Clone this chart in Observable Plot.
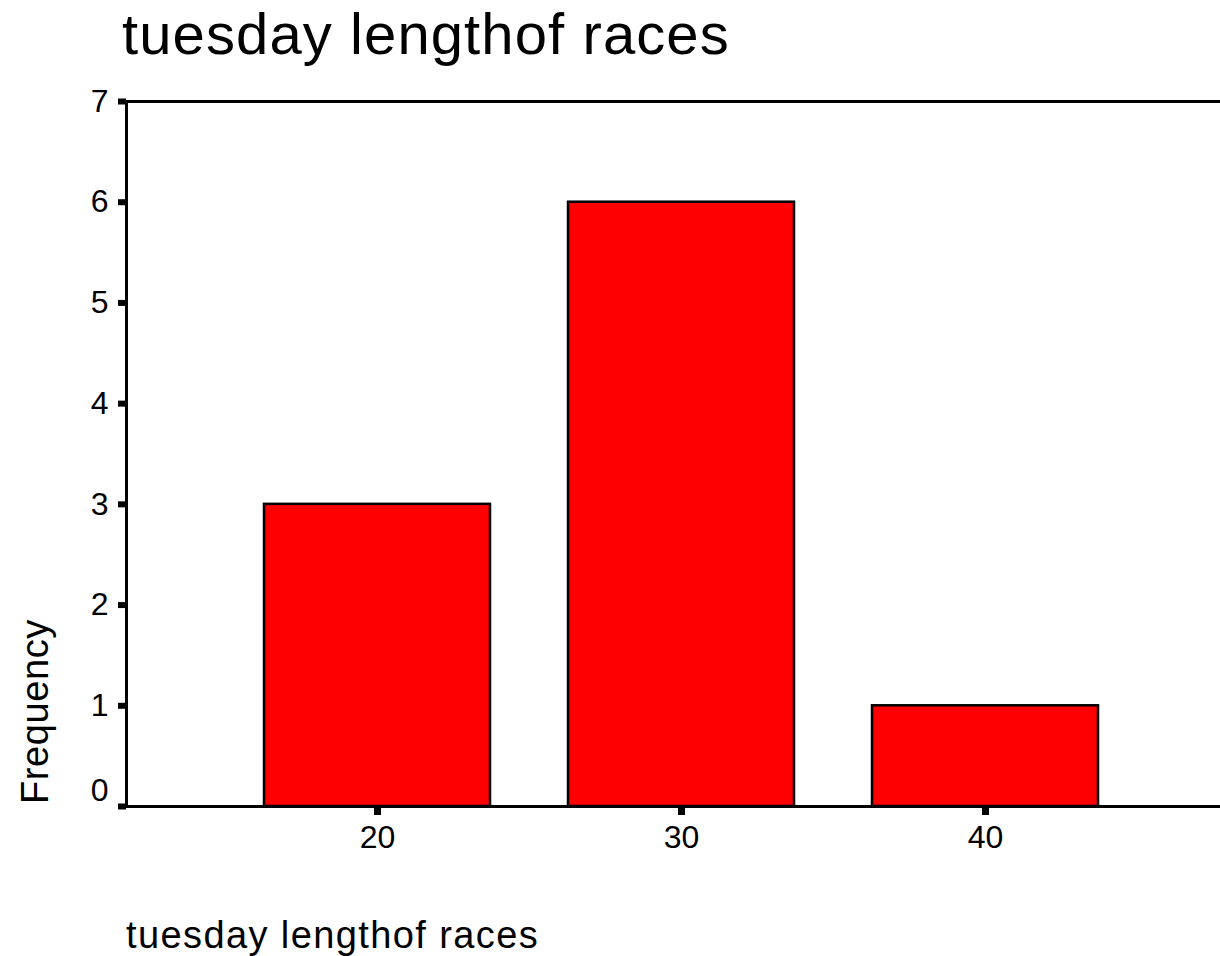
<!DOCTYPE html>
<html>
<head>
<meta charset="utf-8">
<script src="https://cdn.jsdelivr.net/npm/d3@7"></script>
<script src="https://cdn.jsdelivr.net/npm/@observablehq/plot@0.6"></script>
<style>
  html, body { margin: 0; padding: 0; background: #fff; }
  #wrap { position: relative; width: 1220px; height: 956px; overflow: hidden; font-family: "Liberation Sans", Arial, sans-serif; color: #000; }
  #wrap svg { position: absolute; left: 0; top: 0; }
  .lbl { position: absolute; white-space: nowrap; line-height: 1; }
  #title { left: 122px; top: 5px; font-size: 58px; letter-spacing: 1.1px; }
  #xlabel { left: 126px; top: 916px; font-size: 38px; letter-spacing: 1.4px; }
  #ylabel { left: 16px; top: 804px; font-size: 38px; letter-spacing: 0.6px; transform-origin: left top; transform: rotate(-90deg); }
</style>
</head>
<body>
<div id="wrap">
  <div class="lbl" id="title"></div>
  <div class="lbl" id="xlabel"></div>
  <div class="lbl" id="ylabel"></div>
</div>
<script>
// Data
const titleText = "tuesday lengthof races";
const xLabelText = "tuesday lengthof races";
const yLabelText = "Frequency";
const raceLengths = ["20", "30", "40"];
const frequencies = [3, 6, 1];
const yTickValues = [0, 1, 2, 3, 4, 5, 6, 7];

const table = raceLengths.map((l, i) => ({length: l, freq: frequencies[i]}));

document.getElementById("title").textContent = titleText;
document.getElementById("xlabel").textContent = xLabelText;
document.getElementById("ylabel").textContent = yLabelText;

const tickFont = 32;
const chart = Plot.plot({
  width: 1220,
  height: 956,
  marginLeft: 126,
  marginRight: 0,
  marginTop: 101,
  marginBottom: 150,
  style: {fontFamily: "'Liberation Sans', Arial, sans-serif", fontSize: tickFont + "px", color: "#000", background: "transparent", overflow: "hidden"},
  x: {type: "band", domain: raceLengths, range: [126, 1235], paddingInner: 0.258, paddingOuter: 0.45, label: null},
  y: {domain: [0, 7], label: null},
  marks: [
    Plot.barY(table, {x: "length", y: "freq", fill: "#ff0000", stroke: "#000", strokeWidth: 2.5}),
    Plot.frame({anchor: "top", strokeWidth: 3}),
    Plot.frame({anchor: "bottom", strokeWidth: 3}),
    Plot.frame({anchor: "left", strokeWidth: 3}),
    // tick marks for all values; labels for 1..7
    Plot.axisY({ticks: yTickValues, tickSize: 8, strokeWidth: 6, tickPadding: 10, fontSize: tickFont, label: null, tickFormat: d => d === 0 ? "" : String(d)}),
    // the "0" label sits slightly above its tick, as in the original
    Plot.axisY({ticks: yTickValues.filter(d => d === 0), tickSize: 0, tickPadding: 18, fontSize: tickFont, label: null, tickFormat: d => String(d), dy: -16}),
    Plot.axisX({tickSize: 9, strokeWidth: 7, tickPadding: 10, fontSize: tickFont, label: null})
  ]
});
document.getElementById("wrap").prepend(chart);
</script>
</body>
</html>
